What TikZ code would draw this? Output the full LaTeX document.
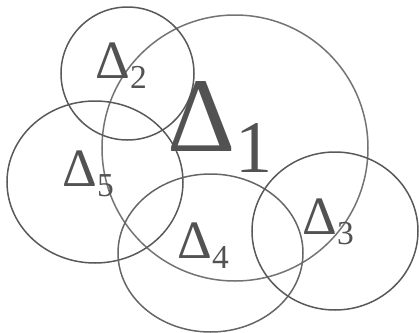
\documentclass[tikz,border=0pt]{standalone}
\usepackage{fontspec}
\setmainfont{Liberation Serif}
\usepackage{tikz}

% Delta with a lowered index
\newcommand{\dsub}[2][0.62]{\raisebox{-0.2em}{\scalebox{#1}{#2}}}

\begin{document}
\begin{tikzpicture}[
    x=0.5pt, y=-0.5pt,
    region/.style={draw=black!65, line width=0.75pt},
    lab/.style={inner sep=0pt, anchor=base west, text=black!68, font=\fontsize{27}{30}\selectfont},
    biglab/.style={lab, font=\fontsize{53}{60}\selectfont},
]

\useasboundingbox (0,0) rectangle (419,333);

% Regions
\draw[region, draw=black!55] (235,148) circle[radius=133];
\draw[region] (127.5,73.5) circle[radius=66.5];
\draw[region] (95,182) ellipse[x radius=88, y radius=81];
\draw[region, draw=black!60] (210.5,253) ellipse[x radius=92.5, y radius=79];
\draw[region] (335,231) ellipse[x radius=83, y radius=79];

% Labels
\node[biglab] (d1) at (167,151) {Δ\dsub[0.7]{1}};
\node[lab] (d2) at (95,78) {Δ\dsub{2}};
\node[lab] (d3) at (302,234) {Δ\dsub{3}};
\node[lab] (d4) at (177,258) {Δ\dsub{4}};
\node[lab] (d5) at (62,186) {Δ\dsub{5}};

\end{tikzpicture}
\end{document}
